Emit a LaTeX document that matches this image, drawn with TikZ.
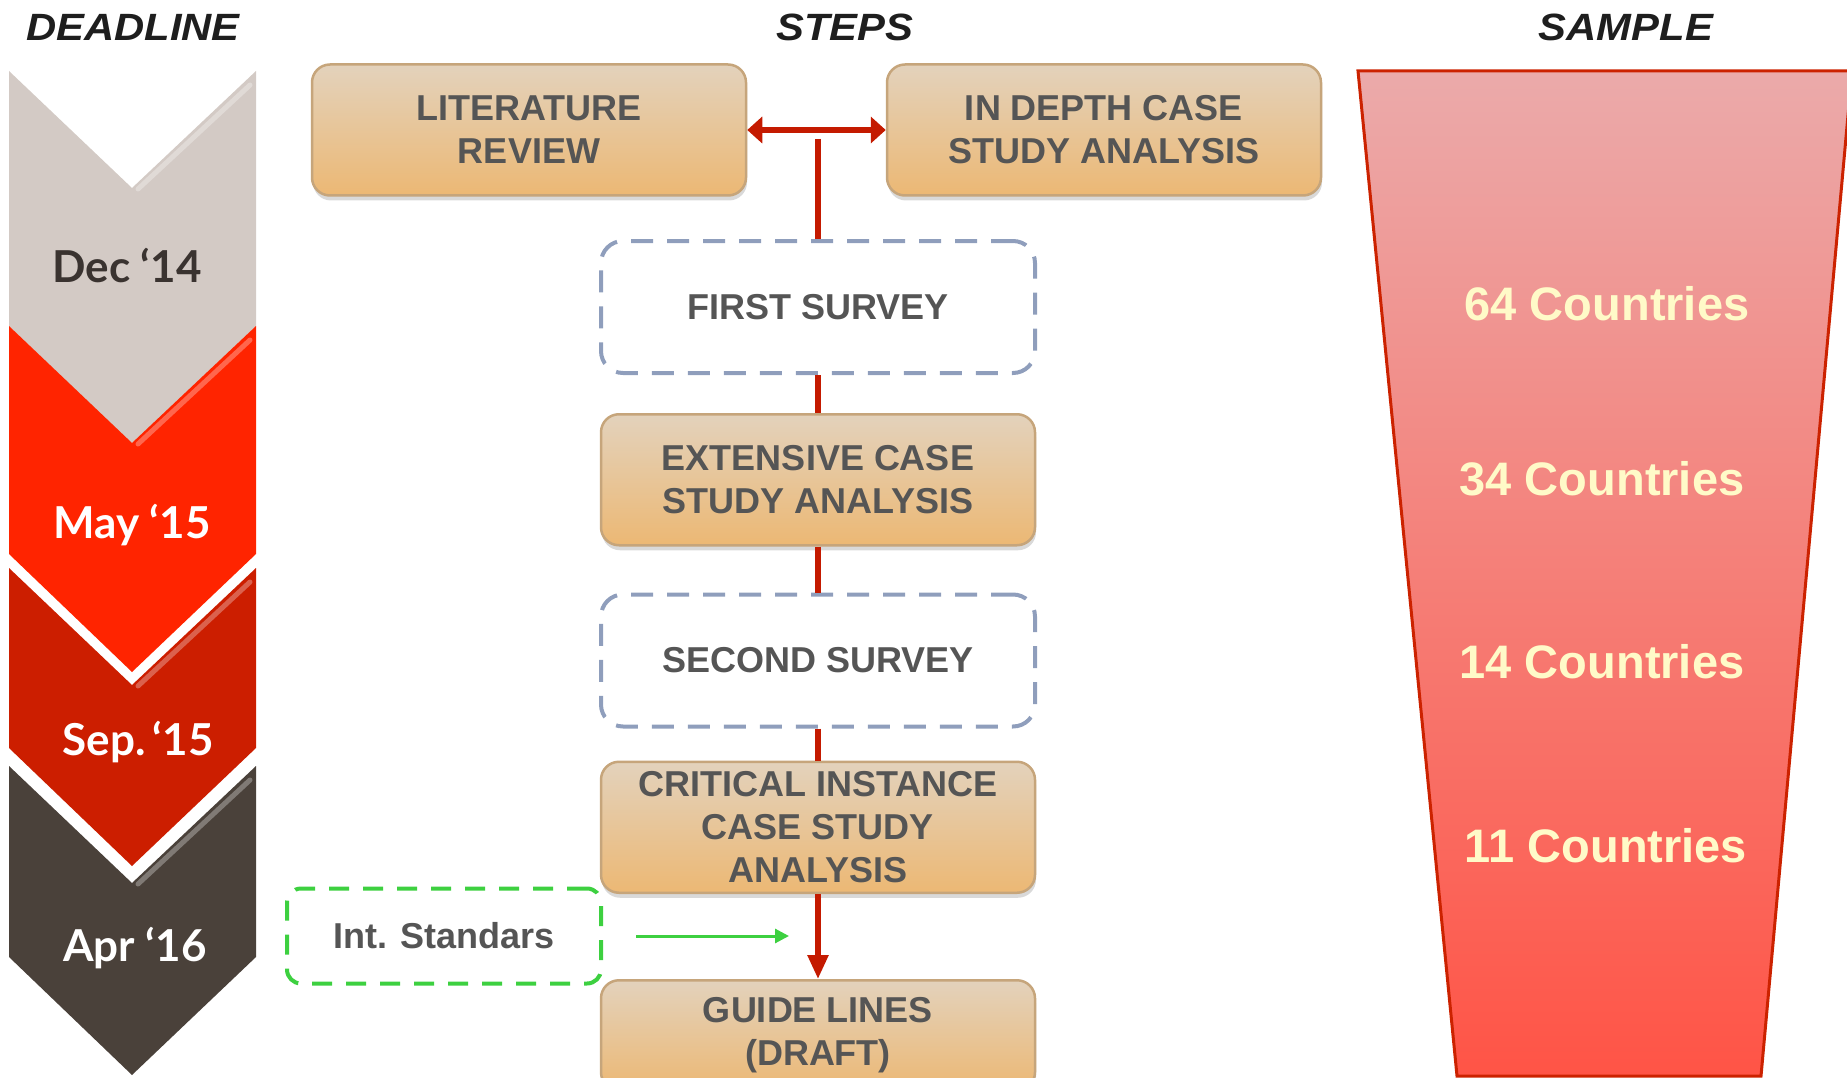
\documentclass[tikz,border=0pt]{standalone}
\usepackage{fontspec}
\usepackage{xcolor}
\usepackage{tikz}
\usetikzlibrary{arrows.meta,positioning,shadows}
\setmainfont{Liberation Sans}
\newfontfamily\headfont{Liberation Sans}[FakeStretch=1.1]
\newfontfamily\datefont{Lato}
\definecolor{steptext}{HTML}{555555}
\definecolor{tantop}{HTML}{E3D2BC}
\definecolor{tanbot}{HTML}{ECB874}
\definecolor{tanrule}{HTML}{C6A57B}
\definecolor{surveyrule}{HTML}{8F9EBC}
\definecolor{stdgreen}{HTML}{3DD040}
\definecolor{flowred}{HTML}{C41A00}
\definecolor{chevgray}{HTML}{D3CAC5}
\definecolor{chevred}{HTML}{FF2400}
\definecolor{chevdeep}{HTML}{CC1E00}
\definecolor{chevdark}{HTML}{4A413A}
\definecolor{datedark}{HTML}{3A3330}
\definecolor{funneltop}{HTML}{EBAAAA}
\definecolor{funnelbot}{HTML}{FF5446}
\definecolor{funnelrule}{HTML}{CC2200}
\definecolor{cream}{HTML}{FFFAC8}
\definecolor{headink}{HTML}{1E1E1E}

\begin{document}
\begin{tikzpicture}[x=1pt,y=-1pt,
  head/.style={font=\headfont\bfseries\itshape\fontsize{38}{40}\selectfont,text=headink},
  datelbl/.style={font=\datefont\bfseries\fontsize{44}{50}\selectfont,text=white},
  stepbox/.style={draw=tanrule,line width=2.5pt,rounded corners=18pt,top color=tantop,bottom color=tanbot,
                  minimum width=434pt,minimum height=131pt,inner sep=4pt,align=center,text=steptext,
                  font=\bfseries\fontsize{36}{43}\selectfont,
                  drop shadow={opacity=0.3,shadow xshift=1pt,shadow yshift=-5pt}},
  survey/.style={draw=surveyrule,line width=4pt,dash pattern=on 22pt off 14pt,rounded corners=22pt,
                 minimum width=434pt,minimum height=132pt,align=center,text=steptext,
                 font=\bfseries\fontsize{36}{43}\selectfont},
  stdbox/.style={draw=stdgreen,line width=4pt,dash pattern=on 20pt off 14pt,rounded corners=14pt,
                 minimum width=314pt,minimum height=95pt,text=steptext,font=\bfseries\fontsize{36}{43}\selectfont},
  count/.style={text=cream,font=\bfseries\fontsize{47}{50}\selectfont},
  flow/.style={draw=flowred,line width=5.5pt},
  flowarr/.style={flow,-{Triangle[length=24pt,width=20pt]}},
  twoway/.style={flow,{Triangle[length=15pt,width=26pt]}-{Triangle[length=15pt,width=26pt]}},
  greenarr/.style={draw=stdgreen,line width=3pt,-{Triangle[length=14pt,width=14pt]}}
]
\useasboundingbox (0,0) rectangle (1847,1078);

\foreach \t/\b/\c in {71/326/chevgray,326/554/chevred,568/748/chevdeep,766/957/chevdark}{
  \fill[\c] (9,\t) -- (132,\t+117) -- (256,\t) -- (256,\b) -- (132,\b+118) -- (9,\b) -- cycle;
  \draw[white,opacity=0.3,line width=5pt,line cap=round] (138,\t+118) -- (250,\t+14);
}
\node[datelbl,text=datedark] (dec) at (127,266) {Dec ‘14};
\node[datelbl] (may) at (132,525) {May ‘15};
\node[datelbl] (sep) at (138,742) {Sep.\,‘15};
\node[datelbl] (apr) at (135,948) {Apr ‘16};

\path[draw=funnelrule,line width=3pt,top color=funneltop,bottom color=funnelbot]
  (1358,71) -- (1852,71) -- (1761,1076) -- (1457,1076) -- cycle;
\node[count] (c64) at (1607,304) {64 Countries};
\node[count] (c34) at (1602,479) {34 Countries};
\node[count] (c14) at (1602,662) {14 Countries};
\node[count] (c11) at (1606,846) {11 Countries};

\node[head] (deadline) at (133,27) {DEADLINE};
\node[head] (steps) at (845,27) {STEPS};
\node[head] (sample) at (1626,27) {SAMPLE};

\node[stepbox] (lit) at (529,130) {LITERATURE\\REVIEW};
\node[stepbox] (depth) at (1104,130) {IN DEPTH CASE\\STUDY ANALYSIS};
\node[survey] (first) at (818,307) {FIRST SURVEY};
\node[stepbox,below=38pt of first] (ext) {EXTENSIVE CASE\\STUDY ANALYSIS};
\node[survey,below=46pt of ext] (second) {SECOND SURVEY};
\node[stepbox,below=32pt of second] (crit) {CRITICAL INSTANCE\\CASE STUDY\\ANALYSIS};
\node[stepbox,minimum height=110pt,below=85pt of crit] (guide) {GUIDE LINES\\(DRAFT)};
\node[stdbox] (std) at (444,936) {Int. Standars};

\coordinate (fork) at (first.north |- 0,139);
\coordinate (gtip) at (789,936);
\draw[twoway] (lit) -- (depth);
\draw[flow] (fork) -- (first);
\draw[flow] (first) -- (ext);
\draw[flow] (ext) -- (second);
\draw[flow] (second) -- (crit);
\draw[flowarr] (crit) -- (guide);
\draw[greenarr] ([xshift=33pt]std.east) -- (gtip);
\end{tikzpicture}
\end{document}
